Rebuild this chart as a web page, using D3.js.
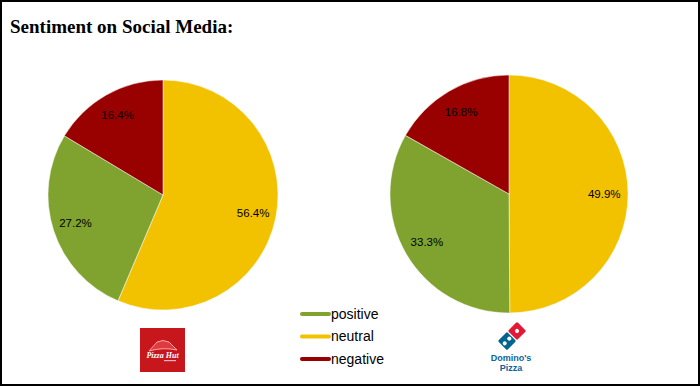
<!DOCTYPE html>
<html>
<head>
<meta charset="utf-8">
<script src="https://cdn.jsdelivr.net/npm/d3@7"></script>
<style>
  body { margin: 0; background: #fff; }
  svg { display: block; }
</style>
</head>
<body>
<div id="chart-area"></div>
<script>
// sentiment shares
var categories = ["neutral", "positive", "negative"];
var pizzaHutValues = [56.4, 27.2, 16.4];
var dominosValues = [49.9, 33.3, 16.8];
var legendOrder = ["positive", "neutral", "negative"];
var colors = { positive: "#7FA32E", neutral: "#F2C200", negative: "#990000" };

var width = 700, height = 386;

var svg = d3.select("#chart-area").append("svg")
    .attr("width", width)
    .attr("height", height);

// frame
svg.append("rect")
    .attr("x", 1).attr("y", 1)
    .attr("width", width - 2).attr("height", height - 2)
    .attr("fill", "#fff")
    .attr("stroke", "#000")
    .attr("stroke-width", 2);

svg.append("text")
    .attr("x", 10)
    .attr("y", 33)
    .attr("font-family", "Liberation Serif, serif")
    .attr("font-weight", "bold")
    .attr("font-size", 19)
    .attr("fill", "#000")
    .text("Sentiment on Social Media:");

var pie = d3.pie().sort(null).value(function (d) { return d.value; });

function drawPie(values, cx, cy, r) {
    var data = categories.map(function (c, i) { return { key: c, value: values[i] }; });
    var arc = d3.arc().innerRadius(0).outerRadius(r);
    var labelArc = d3.arc().innerRadius(r * 0.8).outerRadius(r * 0.8);

    var g = svg.append("g")
        .attr("transform", "translate(" + cx + "," + cy + ")");

    var slices = g.selectAll("g.slice").data(pie(data)).enter()
        .append("g").attr("class", "slice");

    slices.append("path")
        .attr("d", arc)
        .attr("fill", function (d) { return colors[d.data.key]; })
        .attr("stroke", "#fff")
        .attr("stroke-width", 0.5);

    slices.append("text")
        .attr("transform", function (d) { return "translate(" + labelArc.centroid(d) + ")"; })
        .attr("text-anchor", "middle")
        .attr("dy", "0.35em")
        .attr("font-family", "Liberation Sans, Arial, sans-serif")
        .attr("font-size", 11.5)
        .attr("fill", "#000")
        .text(function (d) { return d.data.value.toFixed(1) + "%"; });
}

drawPie(pizzaHutValues, 163, 195, 115);
drawPie(dominosValues, 509, 194, 119);

// legend
var legend = svg.append("g").attr("transform", "translate(302,314)");
var item = legend.selectAll("g").data(legendOrder).enter()
    .append("g")
    .attr("transform", function (d, i) { return "translate(0," + (i * 22.5) + ")"; });
item.append("line")
    .attr("x1", 0).attr("x2", 27)
    .attr("stroke", function (d) { return colors[d]; })
    .attr("stroke-width", 4)
    .attr("stroke-linecap", "round");
item.append("text")
    .attr("x", 29)
    .attr("dy", "0.35em")
    .attr("font-family", "Liberation Sans, Arial, sans-serif")
    .attr("font-size", 14)
    .attr("fill", "#000")
    .text(function (d) { return d; });

// Pizza Hut logo (simplified)
var ph = svg.append("g").attr("transform", "translate(140,328)");
ph.append("rect").attr("width", 45).attr("height", 44).attr("fill", "#C8161D");
ph.append("path")
    .attr("d", "M9,23 L17,14 Q23,11 29,14 L37,22 Q23,19 9,23 Z")
    .attr("fill", "#E0393E")
    .attr("stroke", "#F6C9C9")
    .attr("stroke-width", 0.8);
ph.append("text")
    .attr("x", 22.5).attr("y", 30)
    .attr("text-anchor", "middle")
    .attr("font-family", "Liberation Serif, serif")
    .attr("font-style", "italic")
    .attr("font-weight", "bold")
    .attr("font-size", 8)
    .attr("fill", "#fff")
    .text("Pizza Hut");
ph.append("rect").attr("x", 24).attr("y", 32).attr("width", 12).attr("height", 1.2).attr("fill", "#F3B5B5");

// Domino's logo (simplified)
var dm = svg.append("g").attr("transform", "translate(512,336) rotate(-45)");
dm.append("rect").attr("x", 0.6).attr("y", -6.5).attr("width", 13).attr("height", 13)
    .attr("rx", 1.5).attr("fill", "#E31837");
dm.append("circle").attr("cx", 7.1).attr("cy", 0).attr("r", 2).attr("fill", "#fff");
dm.append("rect").attr("x", -13.6).attr("y", -6.5).attr("width", 13).attr("height", 13)
    .attr("rx", 1.5).attr("fill", "#006491");
dm.append("circle").attr("cx", -10.3).attr("cy", 0).attr("r", 2).attr("fill", "#fff");
dm.append("circle").attr("cx", -3.8).attr("cy", 0).attr("r", 2).attr("fill", "#fff");
svg.append("text")
    .attr("x", 511).attr("y", 361)
    .attr("text-anchor", "middle")
    .attr("font-family", "Liberation Sans, Arial, sans-serif")
    .attr("font-weight", "bold")
    .attr("font-size", 9)
    .attr("fill", "#0B64A0")
    .text("Domino's");
svg.append("text")
    .attr("x", 511).attr("y", 371)
    .attr("text-anchor", "middle")
    .attr("font-family", "Liberation Sans, Arial, sans-serif")
    .attr("font-weight", "bold")
    .attr("font-size", 9)
    .attr("fill", "#0B64A0")
    .text("Pizza");
</script>
</body>
</html>
